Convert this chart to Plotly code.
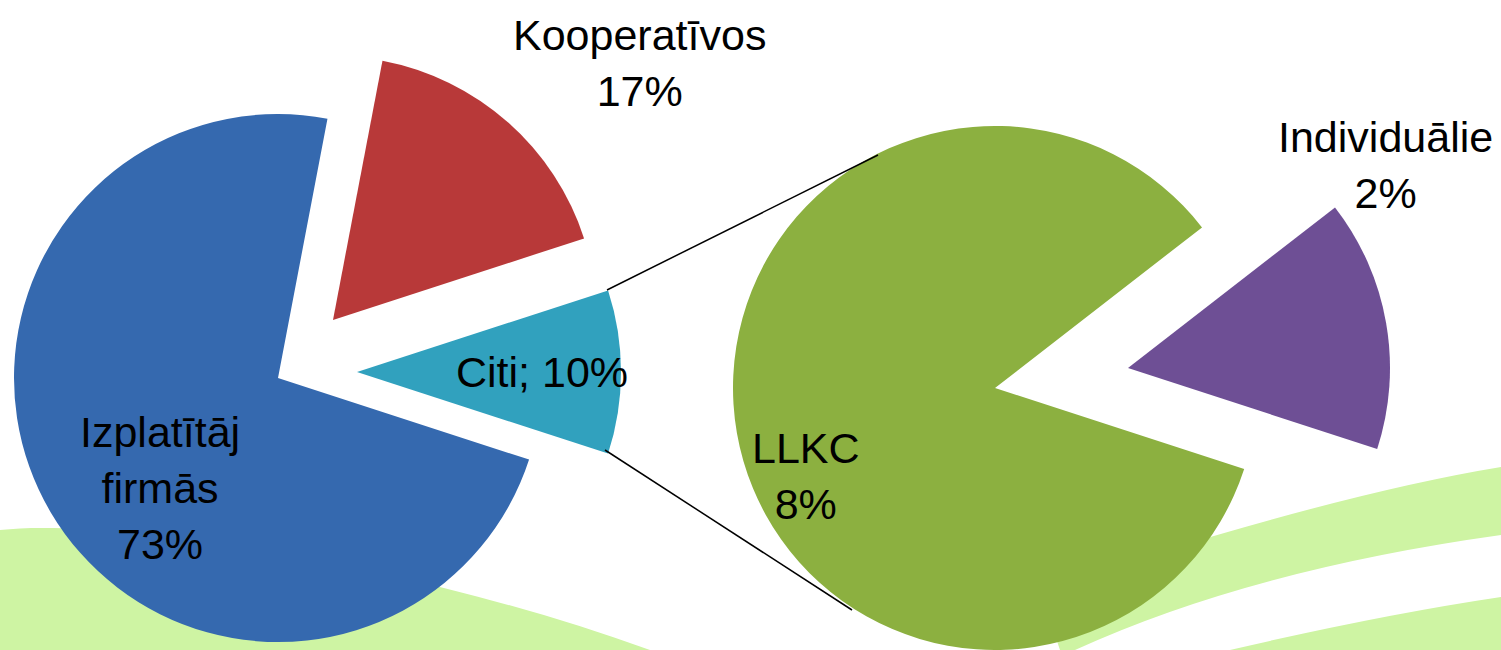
import plotly.graph_objects as go

# ---------------- data ----------------
main_categories = ["Izplatītāj firmās", "Kooperatīvos", "Citi"]
main_values = [73, 17, 10]
sub_categories = ["LLKC", "Individuālie"]
sub_values = [8.45, 1.55]

# ---------------- style ----------------
W, H = 1501, 650
main_colors = ["#3569AF", "#B83939", "#31A1BE"]
sub_colors = ["#8CB040", "#6E4F95"]
BG_GREEN = "#CEF4A3"
FONT = "Liberation Sans"
FS = 43

LEFT_C, LEFT_R = (286, 373), 264
LEFT_OFF = [(-8, 5), (47, -53), (71, -1)]
RIGHT_C, RIGHT_R = (995, 388), 263
RIGHT_OFF = [(0, 0), (133, -20)]


def px(x):
    return x / W


def py(y):
    return 1 - y / H


def domain(cx, cy, r):
    return dict(x=[px(cx - r), px(cx + r)], y=[max(0, py(cy + r)), py(cy - r)])


fig = go.Figure()


def add_pie(cats, vals, colors, center, r, offsets, rotation):
    for i in range(len(vals)):
        cols = [colors[j] if j == i else "rgba(0,0,0,0)" for j in range(len(vals))]
        cx = center[0] + offsets[i][0]
        cy = center[1] + offsets[i][1]
        fig.add_trace(go.Pie(
            labels=cats, values=vals, sort=False, direction="clockwise",
            rotation=rotation, textinfo="none", showlegend=False,
            marker=dict(colors=cols, line=dict(width=0)),
            domain=domain(cx, cy, r), hoverinfo="label+percent",
        ))


add_pie(main_categories, main_values, main_colors, LEFT_C, LEFT_R, LEFT_OFF, 108)
add_pie(sub_categories, sub_values, sub_colors, RIGHT_C, min(RIGHT_R, 650 - RIGHT_C[1]),
        RIGHT_OFF, 108)


def to_paper_path(cmds):
    out = []
    for c in cmds:
        if isinstance(c, str):
            out.append(c)
        else:
            out.append(f"{px(c[0]):.5f},{py(c[1]):.5f}")
    return " ".join(out)


shapes = []
bg_paths = [
    ["M", (0, 650), "L", (0, 530), "C", (110, 518), (400, 560), (650, 650), "Z"],
    ["M", (1501, 467), "Q", (1330, 495), (1040, 590), "L", (1060, 650), "L", (1075, 650),
     "Q", (1250, 570), (1501, 535), "Z"],
    ["M", (1501, 597), "Q", (1380, 615), (1230, 650), "L", (1501, 650), "Z"],
]
for p in bg_paths:
    shapes.append(dict(type="path", xref="paper", yref="paper", path=to_paper_path(p),
                       fillcolor=BG_GREEN, line=dict(width=0), layer="below"))

for (x0, y0, x1, y1) in [(607, 290, 878, 155), (605, 450, 852, 610)]:
    shapes.append(dict(type="line", xref="paper", yref="paper",
                       x0=px(x0), y0=py(y0), x1=px(x1), y1=py(y1),
                       line=dict(color="black", width=1.5), layer="above"))

total = sum(main_values)
main_pct = [f"{round(v / total * 100)}%" for v in main_values]
sub_pct = [f"{round(v / total * 100)}%" for v in sub_values]

label_texts = [
    ("Izplatītāj<br>firmās<br>" + main_pct[0], 160, 488),
    (main_categories[1] + "<br>" + main_pct[1], 639, 63),
    (main_categories[2] + "; " + main_pct[2], 542, 372),
    (sub_categories[0] + "<br>" + sub_pct[0], 806, 476),
    (sub_categories[1] + "<br>" + sub_pct[1], 1385, 165),
]
annotations = []
for text, x, y in label_texts:
    annotations.append(dict(text=text, x=px(x), y=py(y), xref="paper", yref="paper",
                            showarrow=False, xanchor="center", yanchor="middle",
                            align="center", font=dict(family=FONT, size=FS, color="black")))

fig.update_layout(
    width=W, height=H, margin=dict(l=0, r=0, t=0, b=0),
    paper_bgcolor="white", plot_bgcolor="white",
    shapes=shapes, annotations=annotations, showlegend=False,
)

fig.write_html("out.html", config={"displayModeBar": False},
               post_script="document.body.style.margin='0';document.body.style.overflow='hidden';")
